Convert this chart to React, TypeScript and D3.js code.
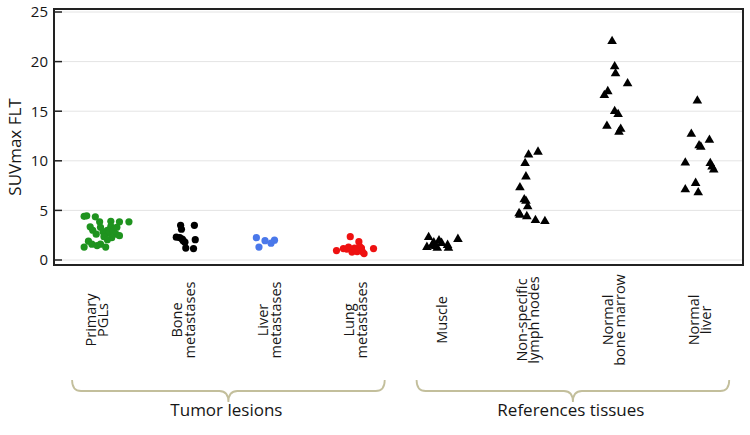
import React from 'react';
import * as d3 from 'd3';

// categories and the group they belong to
const categories = [
  'Primary PGLs', 'Bone metastases', 'Liver metastases', 'Lung metastases',
  'Muscle', 'Non-specific lymph nodes', 'Normal bone marrow', 'Normal liver',
];
const categoryLines = [
  ['Primary', 'PGLs'], ['Bone', 'metastases'], ['Liver', 'metastases'], ['Lung', 'metastases'],
  ['Muscle'], ['Non-specific', 'lymph nodes'], ['Normal', 'bone marrow'], ['Normal', 'liver'],
];
const groups = [
  { name: 'Tumor lesions', from: 'Primary PGLs', to: 'Lung metastases' },
  { name: 'References tissues', from: 'Muscle', to: 'Normal liver' },
];
const yTicks = [0, 5, 10, 15, 20, 25];

// [jitter (fraction of band), SUVmax]
const primaryPGLs = [
  [-0.15, 4.4], [-0.12, 4.45], [-0.02, 4.35], [0.03, 3.85], [0.16, 3.9], [0.26, 3.85], [0.37, 3.85],
  [-0.08, 3.35], [0.04, 3.3], [0.12, 3.0], [0.16, 3.4], [0.2, 3.2], [-0.05, 3.0], [0.07, 2.85],
  [0.1, 2.7], [0.14, 2.75], [0.19, 2.9], [0.22, 2.6], [0.26, 2.45], [0.08, 2.35], [0.17, 2.25],
  [-0.01, 2.6], [-0.1, 1.9], [-0.06, 1.6], [-0.15, 1.3], [0.0, 1.45], [0.04, 1.6], [0.1, 1.3],
  [0.12, 2.05], [0.23, 3.3],
];
const boneMets = [
  [-0.03, 3.5], [-0.02, 3.1], [-0.08, 2.3], [-0.04, 2.25], [-0.01, 2.1], [0.0, 1.95],
  [0.02, 1.8], [0.13, 3.5], [0.14, 2.05], [0.03, 1.2], [0.12, 1.15],
];
const liverMets = [[-0.15, 2.25], [-0.05, 1.95], [0.06, 2.0], [0.02, 1.7], [-0.12, 1.3]];
const lungMets = [
  [-0.22, 0.95], [-0.14, 1.15], [-0.1, 1.1], [-0.06, 2.35], [-0.01, 1.2], [0.04, 1.85],
  [0.02, 0.85], [0.07, 1.2], [0.1, 0.65], [-0.04, 0.8], [-0.08, 1.3], [0.21, 1.15],
  [0.05, 1.35], [0.08, 0.85], [0.0, 1.0],
];
const muscle = [
  [-0.15, 2.3], [-0.17, 1.3], [-0.09, 1.75], [-0.07, 1.4], [-0.03, 1.95], [0.0, 1.7],
  [0.07, 1.5], [0.08, 1.2], [0.19, 2.1], [-0.05, 1.2], [-0.11, 1.5],
];
const lymphNodes = [
  [0.01, 10.6], [0.12, 10.9], [-0.03, 9.75], [-0.02, 8.4], [-0.09, 7.3], [-0.04, 6.1],
  [-0.02, 5.95], [0.0, 5.4], [-0.1, 4.7], [-0.09, 4.55], [-0.01, 4.4], [0.09, 4.0], [0.2, 3.9],
];
const boneMarrow = [
  [-0.02, 22.05], [0.01, 19.5], [0.02, 18.8], [0.16, 17.8], [-0.07, 17.0], [-0.11, 16.6],
  [0.01, 15.0], [0.05, 14.7], [-0.08, 13.5], [0.08, 13.2], [0.06, 12.9],
];
const normalLiver = [
  [-0.03, 16.05], [-0.1, 12.7], [-0.01, 11.55], [0.01, 11.4], [0.11, 12.1], [-0.17, 9.8],
  [0.12, 9.75], [0.14, 9.4], [0.16, 9.1], [-0.05, 7.75], [-0.17, 7.1], [-0.02, 6.8],
];

const series = [
  { cat: 'Primary PGLs', pts: primaryPGLs, color: '#1f931f', shape: 'circle' },
  { cat: 'Bone metastases', pts: boneMets, color: '#000', shape: 'circle' },
  { cat: 'Liver metastases', pts: liverMets, color: '#4a78ea', shape: 'circle' },
  { cat: 'Lung metastases', pts: lungMets, color: '#ee1111', shape: 'circle' },
  { cat: 'Muscle', pts: muscle, color: '#000', shape: 'triangle' },
  { cat: 'Non-specific lymph nodes', pts: lymphNodes, color: '#000', shape: 'triangle' },
  { cat: 'Normal bone marrow', pts: boneMarrow, color: '#000', shape: 'triangle' },
  { cat: 'Normal liver', pts: normalLiver, color: '#000', shape: 'triangle' },
];

const W = 750, H = 435;
const left = 54, right = 743, top = 9, bottom = 265;
const font = '"Open Sans", "DejaVu Sans", sans-serif';
const ink = '#161616';

function brace(x0: number, x1: number, xt: number, yTop: number, yMid: number, yTip: number) {
  const r = 9;
  return `M${x0},${yTop} Q${x0},${yMid} ${x0 + r},${yMid} L${xt - r},${yMid} Q${xt},${yMid} ${xt},${yTip}` +
    ` Q${xt},${yMid} ${xt + r},${yMid} L${x1 - r},${yMid} Q${x1},${yMid} ${x1},${yTop}`;
}

export default function App() {
  const x = d3.scalePoint<string>().domain(categories).range([left, right]).padding(0.5);
  const step = x.step();
  const y = d3.scaleLinear().domain([0, 25]).range([260, 12]);
  const tri = d3.symbol().type(d3.symbolTriangle).size(40)();

  return (
    <svg width={W} height={H} style={{ display: 'block', position: 'absolute', left: 0, top: 0 }}>
      <rect width={W} height={H} fill="#fff" />
      {yTicks.map(t => (
        <g key={t}>
          <line x1={left} x2={right} y1={y(t)} y2={y(t)} stroke="#e4e4e4" strokeWidth={1} />
          <line x1={left} x2={left + 8} y1={y(t)} y2={y(t)} stroke="#222" strokeWidth={1.5} />
          <text x={left - 6} y={y(t)} dy="0.36em" textAnchor="end" fontFamily={font} fontSize={15} fill={ink}>{t}</text>
        </g>
      ))}
      <rect x={left} y={top} width={right - left} height={bottom - top} fill="none" stroke="#222" strokeWidth={2} />
      <text transform={`translate(15,147) rotate(-90)`} textAnchor="middle" dy="0.35em" fontFamily={font} fontSize={17} fill={ink}>SUVmax FLT</text>

      {series.map(s => (
        <g key={s.cat}>
          {s.pts.map(([j, v], i) => {
            const cx = (x(s.cat) as number) + j * step;
            const cy = y(v);
            return s.shape === 'circle'
              ? <circle key={i} cx={cx} cy={cy} r={3.6} fill={s.color} />
              : <path key={i} d={tri as string} transform={`translate(${cx},${cy})`} fill={s.color} />;
          })}
        </g>
      ))}

      {categories.map((c, i) => {
        const lines = categoryLines[i];
        const lh = 12.5;
        return (
          <text key={c} transform={`translate(${x(c)},320) rotate(-90)`} textAnchor="middle" fontFamily={font} fontSize={14.5} fill={ink}>
            {lines.map((l, k) => (
              <tspan key={k} x={0} y={(k - (lines.length - 1) / 2) * lh} dy="0.35em">{l}</tspan>
            ))}
          </text>
        );
      })}

      {groups.map(g => {
        const x0 = (x(g.from) as number) - step * 0.29;
        const x1 = (x(g.to) as number) + step * 0.34;
        const xt = (x0 + x1) / 2;
        return (
          <g key={g.name}>
            <path d={brace(x0, x1, xt, 380, 391, 402)} fill="none" stroke="#c3bf9c" strokeWidth={1.8} />
            <text x={xt - 2} y={416} textAnchor="middle" fontFamily={font} fontSize={17} fill={ink}>{g.name}</text>
          </g>
        );
      })}
    </svg>
  );
}
